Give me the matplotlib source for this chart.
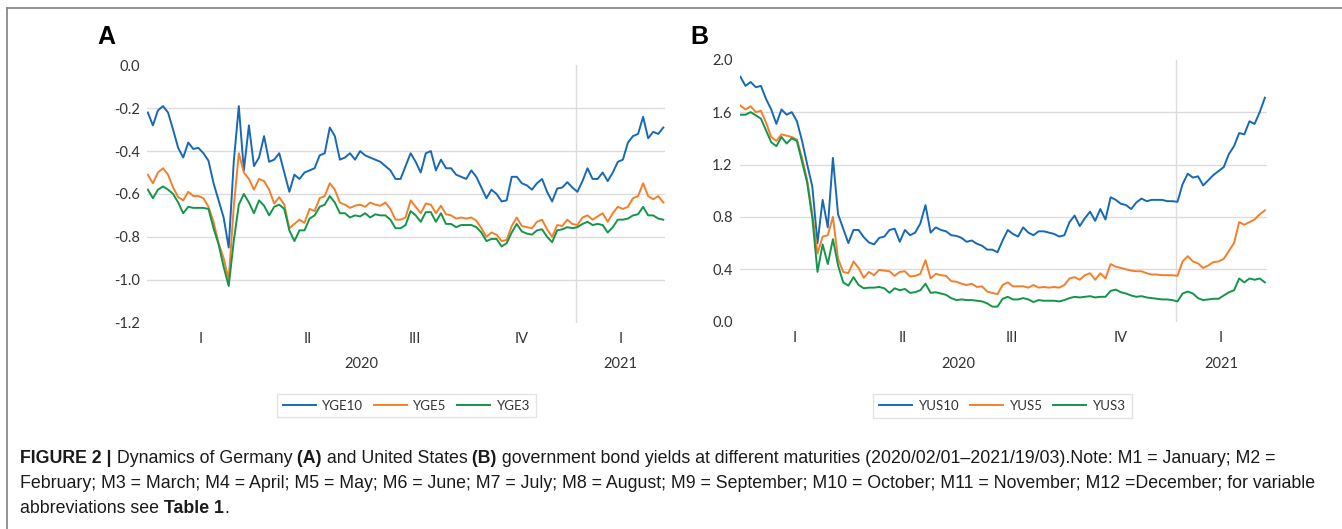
import numpy as np
import matplotlib
matplotlib.use("Agg")
import matplotlib.pyplot as plt
from matplotlib.lines import Line2D

# yields in %, one reading every 3 trading days starting 2020-01-01
step = 3

yge10 = [-0.22, -0.28, -0.21, -0.19, -0.22, -0.30, -0.385, -0.43, -0.36, -0.39,
         -0.385, -0.41, -0.445, -0.55, -0.63, -0.71, -0.85, -0.45, -0.19, -0.49,
         -0.28, -0.47, -0.43, -0.33, -0.45, -0.44, -0.41, -0.50, -0.59, -0.51,
         -0.53, -0.50, -0.49, -0.48, -0.42, -0.41, -0.29, -0.33, -0.44, -0.43,
         -0.41, -0.44, -0.40, -0.42, -0.43, -0.44, -0.45, -0.47, -0.49, -0.53,
         -0.53, -0.47, -0.41, -0.45, -0.50, -0.41, -0.40, -0.49, -0.44, -0.48,
         -0.48, -0.51, -0.52, -0.53, -0.49, -0.52, -0.57, -0.62, -0.58, -0.60,
         -0.635, -0.63, -0.52, -0.52, -0.55, -0.56, -0.58, -0.55, -0.53, -0.59,
         -0.635, -0.575, -0.57, -0.545, -0.57, -0.59, -0.54, -0.48, -0.53, -0.53,
         -0.50, -0.54, -0.50, -0.45, -0.44, -0.36, -0.33, -0.32, -0.24, -0.34,
         -0.31, -0.32, -0.29]
yge5 = [-0.51, -0.55, -0.50, -0.48, -0.51, -0.57, -0.615, -0.63, -0.59, -0.61,
        -0.61, -0.62, -0.66, -0.73, -0.83, -0.90, -1.00, -0.66, -0.41, -0.50,
        -0.53, -0.58, -0.53, -0.54, -0.58, -0.645, -0.615, -0.65, -0.76, -0.74,
        -0.72, -0.735, -0.67, -0.68, -0.62, -0.61, -0.55, -0.58, -0.64, -0.65,
        -0.665, -0.655, -0.65, -0.66, -0.64, -0.65, -0.655, -0.64, -0.67, -0.72,
        -0.72, -0.71, -0.63, -0.66, -0.69, -0.645, -0.65, -0.69, -0.655, -0.695,
        -0.70, -0.715, -0.71, -0.715, -0.71, -0.725, -0.76, -0.80, -0.78, -0.79,
        -0.82, -0.815, -0.75, -0.71, -0.75, -0.755, -0.76, -0.73, -0.72, -0.765,
        -0.80, -0.745, -0.75, -0.72, -0.74, -0.745, -0.71, -0.70, -0.72, -0.705,
        -0.69, -0.73, -0.69, -0.66, -0.67, -0.66, -0.62, -0.61, -0.55, -0.61,
        -0.625, -0.61, -0.64]
yge3 = [-0.58, -0.62, -0.58, -0.565, -0.58, -0.60, -0.64, -0.69, -0.66, -0.665,
        -0.665, -0.665, -0.67, -0.76, -0.835, -0.94, -1.03, -0.82, -0.65, -0.60,
        -0.64, -0.69, -0.63, -0.655, -0.70, -0.66, -0.65, -0.67, -0.77, -0.82,
        -0.77, -0.77, -0.715, -0.70, -0.66, -0.65, -0.61, -0.64, -0.69, -0.69,
        -0.71, -0.70, -0.705, -0.69, -0.71, -0.695, -0.70, -0.70, -0.72, -0.76,
        -0.76, -0.745, -0.68, -0.70, -0.73, -0.685, -0.685, -0.73, -0.69, -0.74,
        -0.74, -0.755, -0.745, -0.745, -0.745, -0.755, -0.78, -0.82, -0.81, -0.81,
        -0.845, -0.83, -0.78, -0.74, -0.775, -0.785, -0.79, -0.77, -0.765, -0.80,
        -0.825, -0.77, -0.765, -0.755, -0.76, -0.755, -0.74, -0.73, -0.745, -0.74,
        -0.745, -0.78, -0.755, -0.72, -0.72, -0.715, -0.70, -0.695, -0.66, -0.70,
        -0.70, -0.715, -0.72]

yus10 = [1.87, 1.80, 1.83, 1.79, 1.80, 1.70, 1.62, 1.51, 1.62, 1.58,
         1.60, 1.53, 1.38, 1.20, 1.03, 0.60, 0.93, 0.72, 1.25, 0.82,
         0.71, 0.60, 0.70, 0.70, 0.645, 0.605, 0.59, 0.64, 0.65, 0.70,
         0.71, 0.61, 0.70, 0.66, 0.68, 0.75, 0.89, 0.68, 0.72, 0.70,
         0.69, 0.66, 0.655, 0.64, 0.61, 0.62, 0.595, 0.58, 0.55, 0.55,
         0.53, 0.62, 0.70, 0.67, 0.65, 0.72, 0.68, 0.66, 0.69, 0.69,
         0.68, 0.67, 0.65, 0.66, 0.76, 0.81, 0.73, 0.79, 0.84, 0.77,
         0.86, 0.78, 0.95, 0.93, 0.90, 0.89, 0.86, 0.91, 0.94, 0.92,
         0.93, 0.93, 0.93, 0.92, 0.92, 0.915, 1.05, 1.13, 1.10, 1.11,
         1.04, 1.08, 1.12, 1.15, 1.18, 1.28, 1.34, 1.44, 1.43, 1.53,
         1.51, 1.60, 1.71]
yus5 = [1.65, 1.62, 1.645, 1.60, 1.61, 1.52, 1.41, 1.38, 1.43, 1.42,
        1.41, 1.39, 1.25, 1.08, 0.82, 0.52, 0.65, 0.66, 0.80, 0.48,
        0.38, 0.37, 0.46, 0.41, 0.335, 0.38, 0.355, 0.395, 0.39, 0.385,
        0.35, 0.38, 0.385, 0.345, 0.35, 0.365, 0.47, 0.33, 0.365, 0.355,
        0.35, 0.31, 0.305, 0.29, 0.28, 0.29, 0.265, 0.27, 0.23, 0.22,
        0.21, 0.28, 0.30, 0.27, 0.27, 0.27, 0.26, 0.28, 0.26, 0.265,
        0.26, 0.265, 0.26, 0.28, 0.33, 0.34, 0.32, 0.355, 0.37, 0.32,
        0.37, 0.33, 0.44, 0.42, 0.41, 0.40, 0.39, 0.385, 0.385, 0.37,
        0.36, 0.36, 0.355, 0.355, 0.355, 0.35, 0.46, 0.50, 0.46, 0.445,
        0.41, 0.43, 0.455, 0.46, 0.48, 0.54, 0.60, 0.76, 0.74, 0.76,
        0.78, 0.82, 0.85]
yus3 = [1.58, 1.58, 1.60, 1.575, 1.55, 1.46, 1.37, 1.34, 1.41, 1.36,
        1.40, 1.38, 1.22, 1.06, 0.79, 0.38, 0.59, 0.44, 0.63, 0.43,
        0.30, 0.275, 0.34, 0.28, 0.255, 0.26, 0.26, 0.265, 0.255, 0.22,
        0.255, 0.24, 0.25, 0.22, 0.225, 0.24, 0.29, 0.22, 0.225, 0.215,
        0.205, 0.18, 0.165, 0.17, 0.165, 0.165, 0.16, 0.155, 0.14, 0.115,
        0.115, 0.175, 0.19, 0.17, 0.17, 0.18, 0.17, 0.15, 0.165, 0.16,
        0.16, 0.16, 0.155, 0.165, 0.18, 0.19, 0.185, 0.19, 0.195, 0.185,
        0.19, 0.19, 0.235, 0.245, 0.225, 0.215, 0.20, 0.19, 0.195, 0.185,
        0.18, 0.175, 0.17, 0.17, 0.165, 0.155, 0.215, 0.23, 0.215, 0.18,
        0.165, 0.17, 0.175, 0.175, 0.20, 0.225, 0.24, 0.33, 0.30, 0.33,
        0.32, 0.33, 0.30]

names_ge = ["YGE10", "YGE5", "YGE3"]
names_us = ["YUS10", "YUS5", "YUS3"]
yticks_ge = [-1.2, -1.0, -0.8, -0.6, -0.4, -0.2, 0.0]
yticks_us = [0.0, 0.4, 0.8, 1.2, 1.6, 2.0]
quarter_labels = ["I", "II", "III", "IV", "I"]
quarter_edges = [0, 63, 127, 190, 254, 307]   # trading days
year_labels = ["2020", "2021"]
year_edges = [0, 254, 307]

colors = ["#1769b5", "#f47f2a", "#13954a"]
grid_c = "#dcdcdc"
text_c = "#333333"
tick_font = "Lato"

W, H = 1342, 529
fig = plt.figure(figsize=(W / 100, H / 100), dpi=100)


def px_axes(x0, y0, x1, y1):
    return fig.add_axes([x0 / W, 1 - y1 / H, (x1 - x0) / W, (y1 - y0) / H])


def panel(ax, series, names, yticks, legend_center):
    for vals, name, c in zip(series, names, colors):
        x = np.arange(len(vals)) * step
        ax.plot(x, vals, color=c, lw=1.4, label=name, solid_joinstyle="round")
    ax.set_xlim(-0.5, 307)
    ax.set_ylim(yticks[0], yticks[-1])
    ax.set_yticks(yticks)
    ax.set_yticklabels([f"{t:.1f}" for t in yticks], family=tick_font)
    for t in yticks[1:-1]:
        ax.axhline(t, color=grid_c, lw=1.0, zorder=0)
    ax.axvline(year_edges[1], color=grid_c, lw=1.0, zorder=0)

    centers = [(a + b) / 2 for a, b in zip(quarter_edges[:-1], quarter_edges[1:])]
    ax.set_xticks(centers)
    ax.set_xticklabels(quarter_labels, family=tick_font)
    ax.tick_params(axis="both", length=0, labelsize=10.5, colors=text_c)
    ax.tick_params(axis="y", pad=5)
    ax.tick_params(axis="x", pad=7)
    for s in ax.spines.values():
        s.set_visible(False)
    for lab, a, b in zip(year_labels, year_edges[:-1], year_edges[1:]):
        ax.text((a + b) / 2, -0.16, lab, transform=ax.get_xaxis_transform(),
                ha="center", va="center", fontsize=10.5, color=text_c,
                family=tick_font)

    leg = ax.legend(loc="center", bbox_to_anchor=(legend_center[0] / W, 1 - legend_center[1] / H),
                    bbox_transform=fig.transFigure, ncol=3, frameon=True,
                    fancybox=False, edgecolor=grid_c, handlelength=2.5,
                    handletextpad=0.5, columnspacing=0.8, borderpad=0.45,
                    prop={"family": tick_font, "size": 9.5})
    leg.get_frame().set_linewidth(1.0)
    for t in leg.get_texts():
        t.set_color(text_c)


ax1 = px_axes(147, 65.4, 665, 322.5)
panel(ax1, [yge10, yge5, yge3], names_ge, yticks_ge, (406.5, 405.5))
ax2 = px_axes(739.5, 59.7, 1266.6, 321.7)
panel(ax2, [yus10, yus5, yus3], names_us, yticks_us, (1002.5, 406))

fig.text(97 / W, 1 - 43.5 / H, "A", fontsize=18, fontweight="bold",
         family="Liberation Sans", va="baseline", ha="left")
fig.text(690 / W, 1 - 43.5 / H, "B", fontsize=18, fontweight="bold",
         family="Liberation Sans", va="baseline", ha="left")

# frame lines around the figure area
fig.add_artist(Line2D([7 / W, 1], [1 - 8 / H, 1 - 8 / H], transform=fig.transFigure,
                      color="#8a8a8a", lw=1.3))
fig.add_artist(Line2D([7 / W, 7 / W], [0, 1 - 8 / H], transform=fig.transFigure,
                      color="#8a8a8a", lw=1.3))

# caption with mixed weights
caption = [
    [("FIGURE 2 |", True), (" Dynamics of Germany", False), (" (A)", True),
     (" and United States", False), (" (B)", True),
     (" government bond yields at different maturities (2020/02/01\u20132021/19/03).Note: M1 = January; M2 =", False)],
    [("February; M3 = March; M4 = April; M5 = May; M6 = June; M7 = July; M8 = August; M9 = September; "
      "M10 = October; M11 = November; M12 =December; for variable", False)],
    [("abbreviations see", False), (" Table 1", True), (".", False)],
]
cap_base = [463, 488, 513]
cap_font = "Liberation Sans"
cap_width = 1255.0
renderer = fig.canvas.get_renderer()


def line_width(parts, size):
    w = 0.0
    for s, bold in parts:
        t = fig.text(0, 0, s, fontsize=size, fontweight="bold" if bold else "normal",
                     family=cap_font)
        w += t.get_window_extent(renderer).width
        t.remove()
    return w


cap_size = 11.0 * cap_width / line_width(caption[0], 11.0)
for parts, yb in zip(caption, cap_base):
    x = 20.0
    for s, bold in parts:
        t = fig.text(x / W, 1 - yb / H, s, fontsize=cap_size,
                     fontweight="bold" if bold else "normal",
                     family=cap_font, color="#1a1a1a",
                     va="baseline", ha="left")
        x += t.get_window_extent(renderer).width

fig.savefig("out.png", dpi=100)
